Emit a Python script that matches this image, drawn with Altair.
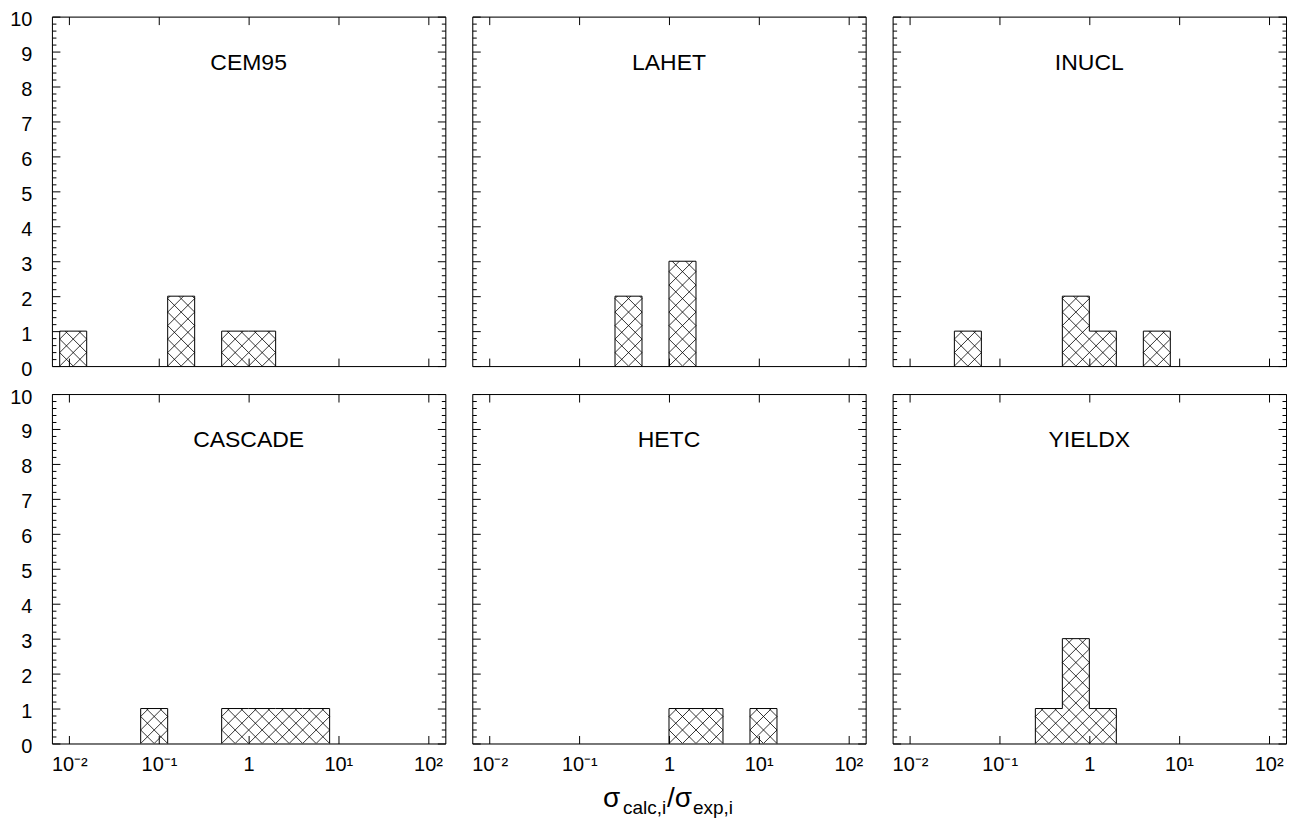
import altair as alt
import pandas as pd
import numpy as np

# ---------------- data ----------------
models = ["CEM95", "LAHET", "INUCL", "CASCADE", "HETC", "YIELDX"]
# histogram bins: lower edge = 2**exponent, upper edge = 2**(exponent+1)
cem95_exp = [-7, -3, -1, 0]
cem95_cnt = [1, 2, 1, 1]
lahet_exp = [-2, 0]
lahet_cnt = [2, 3]
inucl_exp = [-5, -1, 0, 2]
inucl_cnt = [1, 2, 1, 1]
cascade_exp = [-4, -1, 0, 1, 2]
cascade_cnt = [1, 1, 1, 1, 1]
hetc_exp = [0, 1, 3]
hetc_cnt = [1, 1, 1]
yieldx_exp = [-2, -1, 0]
yieldx_cnt = [1, 3, 1]

x_ticks = [0.01, 0.1, 1, 10, 100]
x_tick_labels = ["10\u207b\u00b2", "10\u207b\u00b9", "1", "10\u00b9", "10\u00b2"]
y_ticks = list(range(0, 11))
y_minor = [round(i * 0.2, 1) for i in range(51) if i % 5 != 0]
x_domain = [0.0064, 156]
y_domain = [0, 10]
x_title_parts = ["\u03c3", "calc,i", "/\u03c3", "exp,i"]

# ---------------- style ----------------
W, H = 394, 350
FONT = "Liberation Sans"
PPD = W / np.log10(x_domain[1] / x_domain[0])   # px per decade
PPC = H / (y_domain[1] - y_domain[0])           # px per count
S = np.log10(2) * PPD / 2                       # hatch spacing (px)

label_expr = " : ".join(
    f"abs(datum.value - {v}) < {v * 1e-3} ? '{lab}'" for v, lab in zip(x_ticks, x_tick_labels)
) + " : ''"


def hatch_segments(exps, cnts):
    rows = []
    for e, c in zip(exps, cnts):
        lo, hi = 2.0 ** e, 2.0 ** (e + 1)
        u0, u1, vh = np.log10(lo) * PPD, np.log10(hi) * PPD, c * PPC
        for n in range(int(np.floor((u0 - vh) / S)) - 1, int(np.ceil(u1 / S)) + 2):
            k = n * S
            a, b = max(u0, k), min(u1, k + vh)
            if b - a > 1e-6:
                rows.append((a, a - k, b, b - k))
        for n in range(int(np.floor(u0 / S)) - 1, int(np.ceil((u1 + vh) / S)) + 2):
            k = n * S
            a, b = max(u0, k - vh), min(u1, k)
            if b - a > 1e-6:
                rows.append((a, k - a, b, k - b))
    df = pd.DataFrame(rows, columns=["u1", "v1", "u2", "v2"])
    df["x1"] = 10 ** (df["u1"] / PPD)
    df["x2"] = 10 ** (df["u2"] / PPD)
    df["y1"] = df["v1"] / PPC
    df["y2"] = df["v2"] / PPC
    return df[["x1", "x2", "y1", "y2"]]


def outline(exps, cnts):
    # split into runs of adjacent bins; each run is one step outline
    runs, cur = [], []
    for e, c in sorted(zip(exps, cnts)):
        if cur and e != cur[-1][0] + 1:
            runs.append(cur)
            cur = []
        cur.append((e, c))
    runs.append(cur)
    xs_, ys_, gs_, is_ = [], [], [], []
    i = 0
    for g, run in enumerate(runs):
        pts = [(2.0 ** run[0][0], 0)] + [(2.0 ** e, c) for e, c in run] + [(2.0 ** (run[-1][0] + 1), 0)]
        for x, y in pts:
            xs_.append(x); ys_.append(y); gs_.append(g); is_.append(i); i += 1
    return pd.DataFrame({"x": xs_, "y": ys_, "g": gs_, "i": is_})


xs = alt.Scale(type="log", domain=x_domain, nice=False)
ys = alt.Scale(domain=y_domain, nice=False, zero=False)

tick_common = dict(labels=False, grid=False, title=None, tickColor="black", tickWidth=1,
                   domainColor="black", domainWidth=1)
ax_x_bottom_ticks = alt.Axis(orient="top", offset=-H, values=x_ticks, tickSize=8, domain=True, **tick_common)
ax_x_top_ticks = alt.Axis(orient="bottom", offset=-H, values=x_ticks, tickSize=8, domain=True, **tick_common)
ax_y_left_major = alt.Axis(orient="right", offset=-W, values=y_ticks, tickSize=8, domain=True, **tick_common)
ax_y_right_major = alt.Axis(orient="left", offset=-W, values=y_ticks, tickSize=8, domain=True, **tick_common)
ax_y_left_minor = alt.Axis(orient="right", offset=-W, values=y_minor, tickSize=4, domain=False, **tick_common)
ax_y_right_minor = alt.Axis(orient="left", offset=-W, values=y_minor, tickSize=4, domain=False, **tick_common)
ax_x_labels = alt.Axis(orient="bottom", values=x_ticks, labelExpr=label_expr, ticks=False, tickSize=0,
                       domain=False, grid=False, title=None, labelPadding=11, labelFontSize=20,
                       labelFont=FONT, labelColor="black", labelOverlap=False, labelFlush=False)
ax_y_labels = alt.Axis(orient="left", values=y_ticks, ticks=False, tickSize=0, domain=False, grid=False,
                       title=None, labelPadding=20, labelFontSize=20, labelFont=FONT, labelOffset=3,
                       labelColor="black", labelOverlap=False, labelFlush=False)


def panel(name, exps, cnts, left, bottom, xtitle=False):
    bars = pd.DataFrame({"lo": [2.0 ** e for e in exps], "hi": [2.0 ** (e + 1) for e in exps],
                         "n": cnts, "base": [0] * len(exps)})
    base = alt.Chart(bars)
    l1 = base.mark_rect(opacity=0).encode(
        x=alt.X("lo:Q", scale=xs, axis=ax_x_labels if bottom else None),
        x2="hi:Q",
        y=alt.Y("n:Q", scale=ys, axis=ax_y_labels if left else None),
        y2="base:Q",
    )
    l2 = alt.Chart(hatch_segments(exps, cnts)).mark_rule(color="black", strokeWidth=0.8, clip=True).encode(
        x=alt.X("x1:Q", scale=xs, axis=ax_x_bottom_ticks),
        x2="x2:Q",
        y=alt.Y("y1:Q", scale=ys, axis=ax_y_left_major),
        y2="y2:Q",
    )
    l3 = alt.Chart(outline(exps, cnts)).mark_line(interpolate="step-after", color="black",
                                                   strokeWidth=1).encode(
        x=alt.X("x:Q", scale=xs, axis=ax_x_top_ticks),
        y=alt.Y("y:Q", scale=ys, axis=ax_y_right_major),
        detail="g:N",
        order="i:Q",
    )
    l4 = base.mark_rect(opacity=0).encode(
        x=alt.X("lo:Q", scale=xs, axis=None), x2="hi:Q",
        y=alt.Y("n:Q", scale=ys, axis=ax_y_left_minor), y2="base:Q",
    )
    l5 = base.mark_rect(opacity=0).encode(
        x=alt.X("lo:Q", scale=xs, axis=None), x2="hi:Q",
        y=alt.Y("n:Q", scale=ys, axis=ax_y_right_minor), y2="base:Q",
    )
    title = alt.Chart(pd.DataFrame({"t": [name]})).mark_text(
        font=FONT, fontSize=23, color="black", align="center", baseline="middle"
    ).encode(x=alt.value(W / 2), y=alt.value(46), text="t:N")
    layers = [l1, l2, l3, l4, l5, title]
    if xtitle:
        specs = [(0, 131, 414, 28), (1, 151, 421, 19), (2, 195, 414, 28), (3, 221, 421, 19)]
        for idx, px, py, fs in specs:
            layers.append(
                alt.Chart(pd.DataFrame({"t": [x_title_parts[idx]]})).mark_text(
                    font=FONT, fontSize=fs, color="black", align="left", baseline="alphabetic"
                ).encode(x=alt.value(px), y=alt.value(py), text="t:N")
            )
    return alt.layer(*layers).resolve_axis(x="independent", y="independent").properties(width=W, height=H)


p = [
    panel(models[0], cem95_exp, cem95_cnt, True, False),
    panel(models[1], lahet_exp, lahet_cnt, False, False),
    panel(models[2], inucl_exp, inucl_cnt, False, False),
    panel(models[3], cascade_exp, cascade_cnt, True, True),
    panel(models[4], hetc_exp, hetc_cnt, False, True, xtitle=True),
    panel(models[5], yieldx_exp, yieldx_cnt, False, True),
]

row1 = alt.HConcatChart(hconcat=[p[0], p[1], p[2]], spacing=27, bounds="flush")
row2 = alt.HConcatChart(hconcat=[p[3], p[4], p[5]], spacing=27, bounds="flush")
chart = alt.VConcatChart(vconcat=[row1, row2], spacing=6).properties(
    padding={"left": 1, "top": 0, "right": 2, "bottom": 2}
).configure_view(stroke=None).configure(font=FONT, background="white")

chart.save("out.html", embed_options={"renderer": "svg", "actions": False})
